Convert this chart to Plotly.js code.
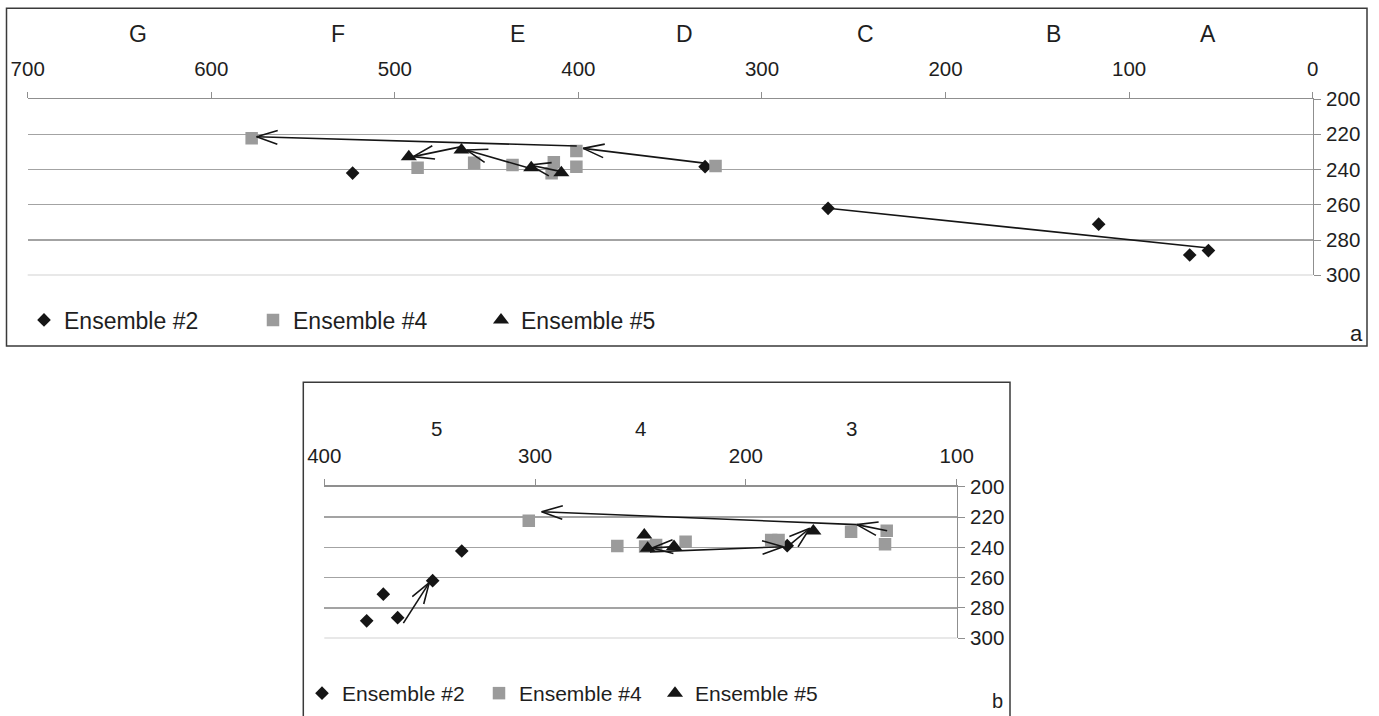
<!DOCTYPE html>
<html><head><meta charset="utf-8">
<script src="https://cdn.plot.ly/plotly-3.0.1.min.js"></script>
<style>html,body{margin:0;padding:0;background:#fff;} #chart{width:1379px;height:716px;}</style>
</head><body><div id="chart"></div>
<script>
// ---------- Panel a data ----------
const aCategories = ['G', 'F', 'E', 'D', 'C', 'B', 'A'];
const aCategoryX = [640, 531, 433, 342, 243.5, 141, 57];
const aXTicks = [700, 600, 500, 400, 300, 200, 100, 0];
const aYTicks = [200, 220, 240, 260, 280, 300];
const aEns2X = [523, 331, 264, 116.6, 67, 56.8];
const aEns2Y = [242, 238.4, 262, 271, 288.5, 286];
const aEns4X = [578, 487.6, 456.8, 435.9, 413.4, 414.6, 401.1, 401.1, 325.3];
const aEns4Y = [222.3, 239, 236.1, 237.4, 235.9, 242.1, 229.5, 238.4, 238];
const aEns5X = [492.4, 463.7, 425.7, 409.3];
const aEns5Y = [232.7, 228.9, 239, 241.8];
const aArrowFromX = [330.3, 400.9, 409.3, 426.5, 463.7];
const aArrowFromY = [236.5, 226.7, 241.2, 239.3, 227];
const aArrowToX = [397.4, 575.3, 426.5, 461, 490];
const aArrowToY = [228, 221.4, 237.4, 228.9, 232.7];
const aLineFromX = [264];
const aLineFromY = [262];
const aLineToX = [56.6];
const aLineToY = [284.5];

// ---------- Panel b data ----------
const bCategories = ['5', '4', '3'];
const bCategoryX = [347, 250, 150];
const bXTicks = [400, 300, 200, 100];
const bYTicks = [200, 220, 240, 260, 280, 300];
const bEns2X = [379.9, 372, 365.2, 348.6, 334.8, 180.4];
const bEns2Y = [288.5, 270.9, 286.4, 262, 242.4, 238.9];
const bEns4X = [303, 261, 247.8, 242.6, 228.6, 188, 184.5, 150.1, 133.2, 134];
const bEns4Y = [222.4, 239.1, 239.5, 238.4, 236.3, 235.1, 235.1, 229.7, 229, 238];
const bEns5X = [248.2, 246.6, 234.1, 168];
const bEns5Y = [231.8, 240.6, 239.5, 229.2];
const bArrowFromX = [362.5, 245.5, 234.1, 179.2, 133, 147.4];
const bArrowFromY = [290, 243, 239.5, 238.4, 229, 225];
const bArrowToX = [350.2, 182.3, 244.5, 169.7, 147.4, 296.9];
const bArrowToY = [263.3, 239.6, 240.4, 227.4, 225, 216.5];

const seriesNames = ['Ensemble #2', 'Ensemble #4', 'Ensemble #5'];

// ---------- geometry (pixels) ----------
const W = 1379, H = 716;
const A = {l: 27.7, r: 1312.7, t: 99, b: 275.3, x0: 700, x1: 0, y0: 200, y1: 300};
const B = {l: 324.3, r: 956.7, t: 486.7, b: 638.3, x0: 400, x1: 100, y0: 200, y1: 300};
const px = v => v / W;
const py = v => 1 - v / H;

function arrowTrace(fx, fy, tx, ty, g, xa, ya, heads) {
  const sx = (g.r - g.l) / (g.x1 - g.x0);
  const sy = (g.b - g.t) / (g.y1 - g.y0);
  const xs = [], ys = [];
  const len = 22, ang = 18 * Math.PI / 180;
  for (let i = 0; i < fx.length; i++) {
    xs.push(fx[i], tx[i], null); ys.push(fy[i], ty[i], null);
    if (!heads) continue;
    const dx = (fx[i] - tx[i]) * sx, dy = (fy[i] - ty[i]) * sy;
    const d = Math.hypot(dx, dy), ux = dx / d, uy = dy / d;
    const pts = [1, -1].map(s => {
      const c = Math.cos(s * ang), si = Math.sin(s * ang);
      return [(ux * c - uy * si) * len / sx, (ux * si + uy * c) * len / sy];
    });
    xs.push(tx[i] + pts[0][0], tx[i], tx[i] + pts[1][0], null);
    ys.push(ty[i] + pts[0][1], ty[i], ty[i] + pts[1][1], null);
  }
  return {x: xs, y: ys, xaxis: xa, yaxis: ya, mode: 'lines', showlegend: false, hoverinfo: 'skip',
          line: {color: '#151515', width: 1.6}};
}

const black = '#151515', grey = '#9b9b9b';
const symbols = ['diamond', 'square', 'triangle-up'];
const colors = [black, grey, black];
const sizes = [10.5, 12.5, 14];

function series(xs, ys, k, xa, ya, lg) {
  return {x: xs, y: ys, xaxis: xa, yaxis: ya, mode: 'markers', name: seriesNames[k], legend: lg,
          marker: {symbol: symbols[k], color: colors[k], size: sizes[k], line: {width: 0}}};
}

const traces = [
  series(aEns2X, aEns2Y, 0, 'x', 'y', 'legend'),
  series(aEns4X, aEns4Y, 1, 'x', 'y', 'legend2'),
  series(aEns5X, aEns5Y, 2, 'x', 'y', 'legend3'),
  series(bEns2X, bEns2Y, 0, 'x2', 'y2', 'legend4'),
  series(bEns4X, bEns4Y, 1, 'x2', 'y2', 'legend5'),
  series(bEns5X, bEns5Y, 2, 'x2', 'y2', 'legend6'),
  arrowTrace(aArrowFromX, aArrowFromY, aArrowToX, aArrowToY, A, 'x', 'y', true),
  arrowTrace(aLineFromX, aLineFromY, aLineToX, aLineToY, A, 'x', 'y', false),
  arrowTrace(bArrowFromX, bArrowFromY, bArrowToX, bArrowToY, B, 'x2', 'y2', true)
];

const font = 'Liberation Sans, Arial, sans-serif';
const axisGrey = '#8f8f8f';
const gridGrey = '#a3a3a3';
function xAxis(g, ticks, yname) {
  return {domain: [px(g.l), px(g.r)], range: [g.x0, g.x1], side: 'top', anchor: yname,
          tickmode: 'array', tickvals: ticks, ticks: 'outside', ticklen: 6, tickwidth: 1, tickcolor: axisGrey,
          showline: true, linecolor: axisGrey, linewidth: 1.3, showgrid: false, zeroline: false,
          ticklabelstandoff: 8, tickfont: {family: font, size: 20.5, color: '#1e1e1e'}, fixedrange: true};
}
function yAxis(g, ticks, xname) {
  return {domain: [py(g.b), py(g.t)], range: [g.y1, g.y0], side: 'right', anchor: xname,
          tickmode: 'array', tickvals: ticks, ticks: 'outside', ticklen: 7, tickwidth: 1, tickcolor: axisGrey,
          showline: true, linecolor: axisGrey, linewidth: 1.3, showgrid: true, gridcolor: gridGrey, gridwidth: 1.3,
          zeroline: false, ticklabelstandoff: 1, tickfont: {family: font, size: 20.5, color: '#1e1e1e'}, fixedrange: true};
}

const annotations = [];
aCategories.forEach((c, i) => annotations.push({text: c, x: aCategoryX[i], xref: 'x', y: py(34), yref: 'paper',
  showarrow: false, xanchor: 'center', yanchor: 'middle', font: {family: font, size: 23, color: '#1e1e1e'}}));
bCategories.forEach((c, i) => annotations.push({text: c, x: bCategoryX[i], xref: 'x2', y: py(428.5), yref: 'paper',
  showarrow: false, xanchor: 'center', yanchor: 'middle', font: {family: font, size: 20.5, color: '#1e1e1e'}}));
annotations.push({text: 'a', x: px(1356), y: py(333), xref: 'paper', yref: 'paper', showarrow: false,
  xanchor: 'center', yanchor: 'middle', font: {family: font, size: 22, color: '#1e1e1e'}});
annotations.push({text: 'b', x: px(997), y: py(701), xref: 'paper', yref: 'paper', showarrow: false,
  xanchor: 'center', yanchor: 'middle', font: {family: font, size: 20, color: '#1e1e1e'}});

function legendAt(xpx, ypx, size) {
  return {x: px(xpx), y: py(ypx), xanchor: 'left', yanchor: 'middle', orientation: 'h', bgcolor: 'rgba(0,0,0,0)',
          borderwidth: 0, itemwidth: 30, itemclick: false, itemdoubleclick: false,
          font: {family: font, size: size, color: '#1e1e1e'}};
}

// bottom gridline (value 300) of each panel
function bottomGrid(xd, yname, yv) {
  return {type: 'line', xref: xd, x0: 0, x1: 1, yref: yname, y0: yv, y1: yv, line: {color: gridGrey, width: 1.3}, layer: 'below'};
}

const layout = {
  width: W, height: H, autosize: false,
  margin: {l: 0, r: 0, t: 0, b: 0, pad: 0},
  paper_bgcolor: '#ffffff', plot_bgcolor: 'rgba(0,0,0,0)',
  showlegend: true,
  xaxis: xAxis(A, aXTicks, 'y'),
  yaxis: yAxis(A, aYTicks, 'x'),
  xaxis2: xAxis(B, bXTicks, 'y2'),
  yaxis2: yAxis(B, bYTicks, 'x2'),
  legend: legendAt(24, 320, 23),
  legend2: legendAt(253, 320, 23),
  legend3: legendAt(481, 320, 23),
  legend4: legendAt(302, 693.5, 21),
  legend5: legendAt(479, 693.5, 21),
  legend6: legendAt(655, 693.5, 21),
  annotations: annotations,
  shapes: [
    bottomGrid('x domain', 'y', A.y1),
    bottomGrid('x2 domain', 'y2', B.y1),
    {type: 'rect', xref: 'paper', yref: 'paper', x0: px(6.5), x1: px(1367), y0: py(346), y1: py(8.3),
     line: {color: '#3a3a3a', width: 1.5}},
    {type: 'rect', xref: 'paper', yref: 'paper', x0: px(303.3), x1: px(1010), y0: py(740), y1: py(382.3),
     line: {color: '#3a3a3a', width: 1.5}}
  ]
};

Plotly.newPlot('chart', traces, layout, {displayModeBar: false, staticPlot: true});
</script>
</body></html>
